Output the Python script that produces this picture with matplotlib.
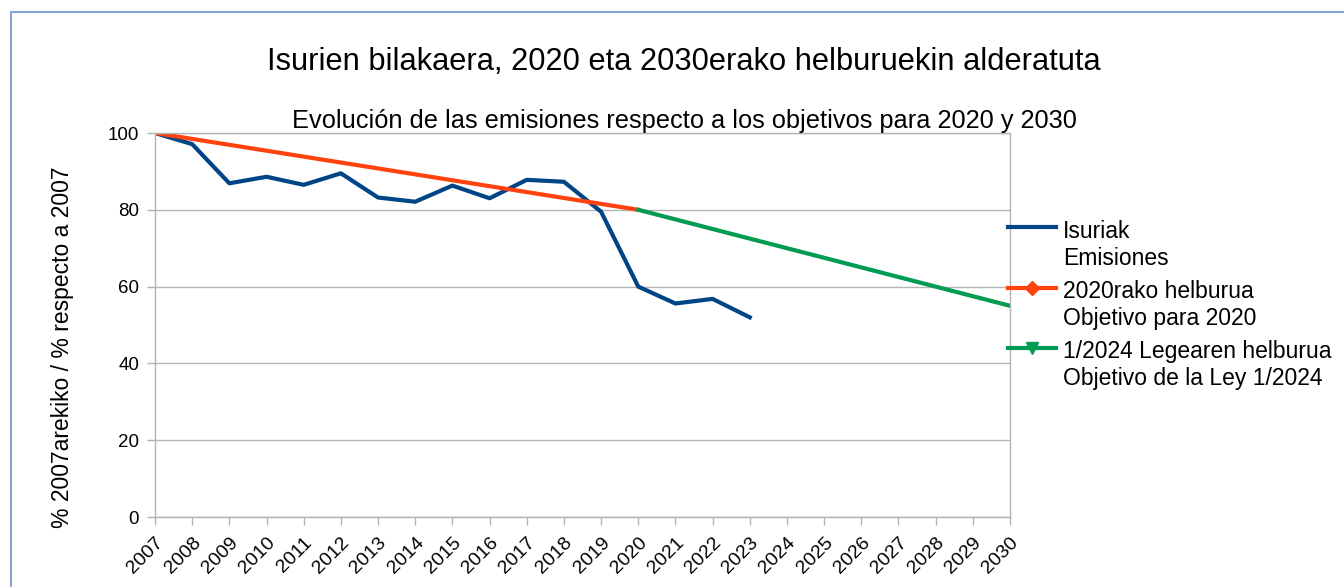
"""Isurien bilakaera vs 2020 eta 2030erako helburuak."""

import matplotlib
matplotlib.use("Agg")
import numpy as np
import matplotlib.pyplot as plt
from matplotlib.lines import Line2D
from matplotlib.patches import Rectangle
from matplotlib.legend_handler import HandlerLine2D

plt.rcParams["font.family"] = ["Liberation Sans", "DejaVu Sans"]

years = list(range(2007, 2031))
year_labels = [str(y) for y in years]

emis_years = list(range(2007, 2024))
emis_values = [100, 97.1, 86.9, 88.6, 86.5, 89.5, 83.2, 82.1, 86.3,
               83.0, 87.8, 87.3, 79.5, 60.0, 55.6, 56.8, 52.0]

obj2020_years = [2007, 2020]
obj2020_values = [100, 80]

ley_years = [2020, 2030]
ley_values = [80, 55]

label_emis = "Isuriak\nEmisiones"
label_2020 = "2020rako helburua\nObjetivo para 2020"
label_ley = "1/2024 Legearen helburua\nObjetivo de la Ley 1/2024"

c_blue = "#004586"
c_orange = "#ff420e"
c_green = "#019b52"
c_grid = "#b3b3b3"


class FirstLineHandler(HandlerLine2D):
    """legend handle level with the first line of a two-line label"""

    def create_artists(self, legend, orig_handle, xdescent, ydescent,
                       width, height, fontsize, trans):
        arts = super().create_artists(legend, orig_handle, xdescent, ydescent,
                                      width, height, fontsize, trans)
        for a in arts:
            a.set_ydata(np.asarray(a.get_ydata(), dtype=float) + 0.8 * fontsize)
        return arts


fig = plt.figure(figsize=(13.44, 5.87), dpi=100)
ax = fig.add_axes([155 / 1344, 1 - 517 / 587, (1010 - 155) / 1344, (517 - 133) / 587])

ax.plot(emis_years, emis_values, color=c_blue, linewidth=3)
ax.plot(obj2020_years, obj2020_values, color=c_orange, linewidth=3)
ax.plot(ley_years, ley_values, color=c_green, linewidth=3)

ax.set_xlim(years[0], years[-1])
ax.set_ylim(0, 100)
ax.set_yticks([0, 20, 40, 60, 80, 100])
ax.set_xticks(years)
ax.set_xticklabels(year_labels, rotation=45, ha="right", rotation_mode="anchor")
ax.tick_params(axis="both", colors=c_grid, labelcolor="black", labelsize=13.5,
               length=5.5, width=1)
ax.tick_params(axis="x", labelsize=14, pad=7)
ax.tick_params(axis="y", pad=6)
ax.grid(axis="y", color=c_grid, linewidth=1)
ax.set_axisbelow(True)
for sp in ax.spines.values():
    sp.set_color(c_grid)
    sp.set_linewidth(1)

ax.set_ylabel("% 2007arekiko / % respecto a 2007", fontsize=16.5)
ax.yaxis.set_label_coords(-0.095, 0.443)

fig.text(0.509, 1 - 62 / 587, "Isurien bilakaera, 2020 eta 2030erako helburuekin alderatuta",
         ha="center", va="center", fontsize=22.2)
fig.text(0.509, 1 - 121 / 587, "Evolución de las emisiones respecto a los objetivos para 2020 y 2030",
         ha="center", va="center", fontsize=18.3)

handles = [
    Line2D([], [], color=c_blue, linewidth=3),
    Line2D([], [], color=c_orange, linewidth=3, marker="D", markersize=7),
    Line2D([], [], color=c_green, linewidth=3, marker="v", markersize=9),
]
fig.legend(handles, [label_emis, label_2020, label_ley], loc="upper left",
           bbox_to_anchor=(1008 / 1344, 1 - 220 / 587), frameon=False,
           fontsize=16.5, handlelength=2.1, handletextpad=0.3, labelspacing=0.46,
           borderpad=0, borderaxespad=0,
           handler_map={Line2D: FirstLineHandler()})

# outer frame of the chart object (right and bottom fall outside the image)
fig.patches.append(Rectangle((11 / 1344, -0.1), 1.2, 1 - 12 / 587 + 0.1,
                             transform=fig.transFigure, fill=False,
                             edgecolor="#86a6d6", linewidth=1.5, clip_on=False))

fig.savefig("out.png", dpi=100)
